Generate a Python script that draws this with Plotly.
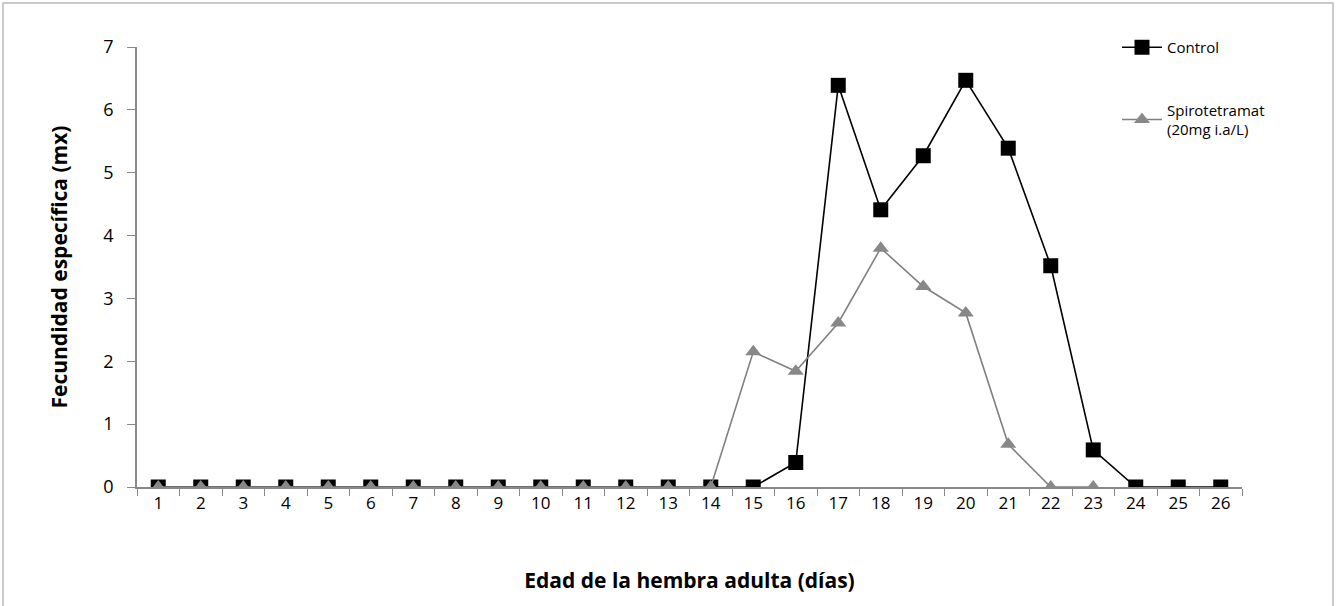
import plotly.graph_objects as go

days = [str(d) for d in range(1, 27)]
control = [0]*14 + [0, 0.39, 6.39, 4.41, 5.27, 6.47, 5.39, 3.52, 0.59, 0, 0, 0]
spiro = [0]*14 + [2.15, 1.84, 2.61, 3.80, 3.19, 2.77, 0.68, 0, 0, None, None, None]
y_ticks = [0, 1, 2, 3, 4, 5, 6, 7]

W, H = 1338, 606
ml, mr, mt, mb = 137, 96, 47, 119
pw, ph = W - ml - mr, H - mt - mb

def px_x(p):
    return (p - ml) / pw

def px_y(p):
    return (H - mb - p) / ph

font = "Open Sans"

fig = go.Figure()
fig.add_trace(go.Scatter(
    x=days, y=control, name="Control", mode="lines+markers",
    line=dict(color="black", width=1.6),
    marker=dict(symbol="square", size=15, color="black"),
    legendgroup="a",
))
fig.add_trace(go.Scatter(
    x=days, y=spiro, name="Spirotetramat<br>(20mg i.a/L)", mode="lines+markers",
    line=dict(color="#808080", width=1.6),
    marker=dict(symbol="triangle-up", size=14, color="#888888"),
    legendgroup="b", connectgaps=False,
))

fig.update_layout(
    width=W, height=H,
    margin=dict(l=ml, r=mr, t=mt, b=mb, autoexpand=False),
    plot_bgcolor="white", paper_bgcolor="white",
    font=dict(family=font, size=16, color="black"),
    showlegend=True,
    legend=dict(x=px_x(1117), y=px_y(31), xanchor="left", yanchor="top",
                bgcolor="rgba(0,0,0,0)", font=dict(size=15, family=font),
                tracegroupgap=40, itemwidth=40),
    xaxis=dict(
        type="category", categoryorder="array", categoryarray=days,
        range=[-0.5, 25.5], automargin=False,
        tickson="boundaries", ticks="outside", ticklen=7, tickcolor="#888",
        showline=True, linecolor="#888", linewidth=1.5, showgrid=False,
        tickfont=dict(size=17, family=font),
        title=dict(text="<b>Edad de la hembra adulta (días)</b>",
                   font=dict(size=21, family=font), standoff=60),
    ),
    yaxis=dict(
        range=[0, 7], tickvals=y_ticks, ticks="outside", ticklen=8, tickcolor="#888",
        showline=True, linecolor="#888", linewidth=1.5, showgrid=False, zeroline=False,
        tickfont=dict(size=18, family=font), ticklabelstandoff=10, automargin=False,
        title=dict(text="<b>Fecundidad específica (mx)</b>",
                   font=dict(size=21, family=font), standoff=30),
    ),
)

fig.add_shape(type="rect", xref="paper", yref="paper",
              x0=px_x(3), x1=px_x(1333), y0=px_y(640), y1=px_y(3),
              line=dict(color="#bbbbbb", width=1.5), layer="below")

fig.write_html("out.html", config={"displayModeBar": False},
               post_script="document.body.style.margin='0';document.body.style.padding='0';")
